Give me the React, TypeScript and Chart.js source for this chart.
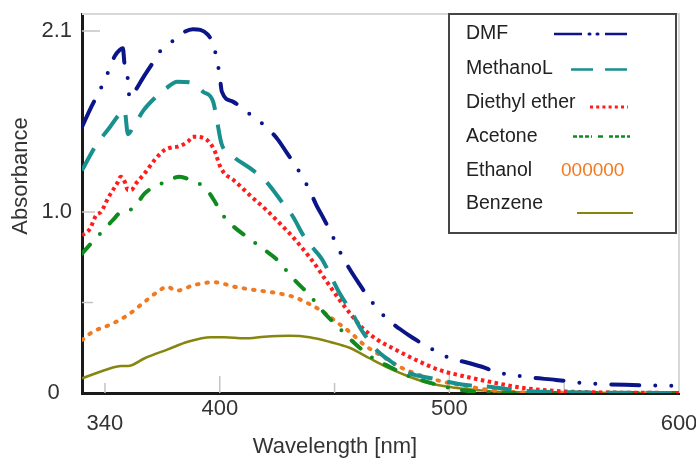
import React, { useEffect, useRef } from 'react';
import { Chart, registerables } from 'chart.js';

Chart.register(...registerables);

// ---------- data ----------
const seriesNames = ['DMF', 'MethanoL', 'Diethyl ether', 'Acetone', 'Ethanol', 'Benzene'];

const dmfWavelength = [340, 344, 347.7, 350.6, 354.2, 356.4, 357.8, 358.5, 360, 360.7, 362.9, 366.5, 370.1, 373.8, 377.4, 381.7, 388.3, 394.8, 397.7, 399.9, 400.9, 405.7, 411.6, 421, 425.3, 429.3, 433.3, 439.1, 442, 445.2, 448.6, 453.6, 457.3, 460.9, 465.2, 473.2, 478.3, 484, 489.9, 500.7, 507.2, 514.2, 520, 532.6, 546.4, 559.4, 579.7, 600];
const dmfAbsorbance = [1.47, 1.58, 1.67, 1.75, 1.86, 1.895, 1.905, 1.82, 1.73, 1.63, 1.665, 1.74, 1.81, 1.885, 1.92, 1.97, 2.01, 1.98, 1.9, 1.76, 1.665, 1.61, 1.555, 1.46, 1.4, 1.325, 1.25, 1.12, 1.04, 0.965, 0.88, 0.75, 0.67, 0.6, 0.52, 0.405, 0.355, 0.305, 0.26, 0.19, 0.17, 0.145, 0.118, 0.09, 0.072, 0.054, 0.044, 0.04];

const methanolWavelength = [340, 345.7, 352.2, 357.3, 358.5, 360, 362.3, 366.7, 370.9, 376.8, 381.5, 387.6, 392.7, 397.1, 398.5, 400.7, 405.1, 414.5, 420.3, 427.5, 431.9, 436.2, 440, 444.2, 447.8, 452.2, 457.3, 461.6, 468.1, 473.9, 482.6, 492.7, 507.2, 517.4, 530, 540, 600];
const methanolAbsorbance = [1.23, 1.36, 1.47, 1.555, 1.565, 1.43, 1.47, 1.56, 1.62, 1.685, 1.72, 1.715, 1.665, 1.61, 1.527, 1.38, 1.315, 1.23, 1.167, 1.048, 0.974, 0.875, 0.81, 0.745, 0.661, 0.551, 0.449, 0.35, 0.24, 0.18, 0.11, 0.08, 0.044, 0.035, 0.015, 0.007, 0];

const etherWavelength = [340, 343.3, 346.2, 348.4, 351.3, 353.5, 355.7, 356.8, 358.6, 360, 361.4, 363.6, 367.3, 371.6, 376, 379, 381.7, 386.1, 388.3, 393.3, 397.7, 399.9, 402, 405.7, 413, 420.3, 426.1, 430.4, 434.8, 438.5, 442.7, 447.1, 452.2, 457.3, 462.3, 468.8, 476.8, 485.5, 495.7, 505.8, 516, 533.3, 553.6, 600];
const etherAbsorbance = [0.87, 0.904, 0.983, 1.002, 1.076, 1.122, 1.167, 1.195, 1.167, 1.122, 1.122, 1.159, 1.214, 1.287, 1.343, 1.357, 1.361, 1.389, 1.416, 1.407, 1.34, 1.26, 1.214, 1.18, 1.094, 1.011, 0.938, 0.882, 0.818, 0.76, 0.689, 0.606, 0.514, 0.431, 0.357, 0.293, 0.238, 0.182, 0.127, 0.094, 0.066, 0.026, 0.007, 0];

const acetoneWavelength = [340, 344, 348.4, 353.5, 357.1, 362.2, 367.3, 371.6, 376.7, 382.5, 387.5, 393.6, 397.9, 400.3, 404.3, 411.6, 419.6, 424.7, 432.6, 439.1, 445.7, 452.2, 458.7, 466.7, 473.9, 481.2, 489.9, 502.9, 511.6, 525, 600];
const acetoneAbsorbance = [0.77, 0.827, 0.886, 0.956, 1.002, 1.02, 1.103, 1.14, 1.167, 1.195, 1.175, 1.134, 1.057, 1.002, 0.94, 0.864, 0.79, 0.739, 0.624, 0.541, 0.44, 0.357, 0.275, 0.192, 0.145, 0.099, 0.063, 0.02, 0.007, 0, 0];

const ethanolWavelength = [340, 344.8, 352, 360, 366.5, 373, 377.1, 381, 389, 397.7, 406.4, 415.1, 423.8, 431.9, 439.9, 444.9, 450.7, 457.3, 463, 471, 478.3, 487, 497.1, 508.7, 517.4, 530, 600];
const ethanolAbsorbance = [0.293, 0.339, 0.376, 0.431, 0.496, 0.56, 0.587, 0.565, 0.597, 0.612, 0.587, 0.569, 0.554, 0.532, 0.486, 0.449, 0.394, 0.33, 0.265, 0.201, 0.145, 0.099, 0.063, 0.035, 0.017, 0.005, 0];

const benzeneWavelength = [340, 350.1, 357.1, 360, 367.3, 377.4, 386.1, 396.2, 402, 410.7, 419.4, 425.2, 430.4, 439.1, 447.8, 456.5, 465.2, 473.9, 482.6, 491.3, 501.4, 511.6, 525, 600];
const benzeneAbsorbance = [0.081, 0.127, 0.149, 0.149, 0.192, 0.241, 0.283, 0.308, 0.308, 0.302, 0.311, 0.315, 0.316, 0.308, 0.283, 0.25, 0.192, 0.136, 0.09, 0.054, 0.031, 0.017, 0.005, 0];

const wavelengthTicks = [350, 400, 450, 500, 550, 600];
const wavelengthTickLabels = ['340', '400', '', '500', '', '600'];
const loweredTickLabels = ['340', '600'];
const absorbanceTicks = [0, 0.5, 1.0, 2.0];
const absorbanceTickLabels = ['0  ', '', '1.0', '2.1'];

const xAxisTitle = 'Wavelength [nm]';
const yAxisTitle = 'Absorbance';
const ethanolLegendMark = '000000';

// ---------- styles ----------
const FONT = '"Liberation Sans", Arial, Helvetica, sans-serif';
const colors = ['#0b1488', '#17908e', '#ff1c1c', '#0e8a1e', '#f07a22', '#86860f'];

const pairs = (xs: number[], ys: number[]) => xs.map((x, i) => ({ x, y: ys[i] }));

const frameAndTicksPlugin = {
  id: 'frameAndTicks',
  beforeDatasetsDraw(chart: any) {
    const { ctx, chartArea } = chart;
    const { left, right, top, bottom } = chartArea;
    ctx.save();
    ctx.strokeStyle = '#d8d8d8';
    ctx.lineWidth = 2;
    ctx.beginPath();
    ctx.moveTo(left, top);
    ctx.lineTo(right, top);
    ctx.lineTo(right, bottom);
    ctx.stroke();
    ctx.strokeStyle = '#c4c4c4';
    ctx.lineWidth = 1.5;
    const xs = chart.scales.x;
    const ys = chart.scales.y;
    const xLen: Record<number, number> = { 350: 10, 400: 17, 450: 10, 500: 22, 550: 10 };
    Object.keys(xLen).forEach((k) => {
      const v = Number(k);
      const px = xs.getPixelForValue(v);
      ctx.beginPath();
      ctx.moveTo(px, bottom);
      ctx.lineTo(px, bottom - xLen[v]);
      ctx.stroke();
    });
    const yLen: Record<string, number> = { '0.5': 11, '1': 13, '2': 18 };
    Object.keys(yLen).forEach((k) => {
      const py = ys.getPixelForValue(Number(k));
      ctx.beginPath();
      ctx.moveTo(left, py);
      ctx.lineTo(left + yLen[k], py);
      ctx.stroke();
    });
    ctx.restore();
  },
};

const titlesAndLegendPlugin = {
  id: 'titlesAndLegend',
  afterDraw(chart: any) {
    const { ctx } = chart;
    ctx.save();
    // axis titles
    ctx.fillStyle = '#333';
    ctx.font = `22px ${FONT}`;
    ctx.textAlign = 'center';
    ctx.textBaseline = 'middle';
    ctx.fillText(xAxisTitle, 335, 447);
    ctx.save();
    ctx.translate(21, 176);
    ctx.rotate(-Math.PI / 2);
    ctx.fillText(yAxisTitle, 0, 0);
    ctx.restore();

    // legend box
    const bx = 449, by = 14, bw = 227, bh = 219;
    ctx.fillStyle = '#fff';
    ctx.fillRect(bx, by, bw, bh);
    ctx.strokeStyle = '#454545';
    ctx.lineWidth = 2;
    ctx.strokeRect(bx, by, bw, bh);

    const rowY = [33.5, 69, 103, 136.5, 171, 204];
    ctx.font = `19.5px ${FONT}`;
    ctx.textAlign = 'left';
    seriesNames.forEach((name, i) => {
      ctx.fillStyle = '#222';
      ctx.fillText(name, 466, rowY[i]);
    });

    const seg = (x1: number, x2: number, y: number, color: string, w: number, dash: number[], cap: CanvasLineCap) => {
      ctx.save();
      ctx.strokeStyle = color;
      ctx.lineWidth = w;
      ctx.lineCap = cap;
      ctx.setLineDash(dash);
      ctx.beginPath();
      ctx.moveTo(x1, y);
      ctx.lineTo(x2, y);
      ctx.stroke();
      ctx.restore();
    };
    // DMF: dash-dot-dot
    seg(554, 582, 34, colors[0], 2.5, [], 'butt');
    seg(589, 590, 34, colors[0], 3, [], 'round');
    seg(597, 598, 34, colors[0], 3, [], 'round');
    seg(605, 627, 34, colors[0], 2.5, [], 'butt');
    // MethanoL: long dashes
    seg(571, 627, 69.5, colors[1], 2.5, [22, 12], 'butt');
    // Diethyl ether: dots
    seg(590, 628, 107, colors[2], 3, [3, 3.2], 'butt');
    // Acetone
    seg(573, 592, 136.5, colors[3], 2.5, [4, 2], 'butt');
    seg(598, 603, 136.5, colors[3], 2.5, [], 'butt');
    seg(609, 630, 136.5, colors[3], 2.5, [4, 2], 'butt');
    // Ethanol mark
    ctx.fillStyle = colors[4];
    ctx.font = `19px ${FONT}`;
    ctx.fillText(ethanolLegendMark, 561, 171);
    // Benzene
    seg(577, 633, 213, colors[5], 2, [], 'butt');
    ctx.restore();
  },
};

export default function App() {
  const canvasRef = useRef<HTMLCanvasElement | null>(null);

  useEffect(() => {
    if (!canvasRef.current) return;
    const common = { pointRadius: 0, fill: false, cubicInterpolationMode: 'monotone' as const };
    const chart = new Chart(canvasRef.current, {
      type: 'line',
      data: {
        datasets: [
          { ...common, label: seriesNames[0], data: pairs(dmfWavelength, dmfAbsorbance), borderColor: colors[0], borderWidth: 4, borderDash: [28, 16, 0, 16, 0, 16], borderCapStyle: 'round' },
          { ...common, label: seriesNames[1], data: pairs(methanolWavelength, methanolAbsorbance), borderColor: colors[1], borderWidth: 4, borderDash: [25, 15], borderCapStyle: 'butt' },
          { ...common, label: seriesNames[2], data: pairs(etherWavelength, etherAbsorbance), borderColor: colors[2], borderWidth: 4, borderDash: [3.5, 3.5], borderCapStyle: 'butt' },
          { ...common, label: seriesNames[3], data: pairs(acetoneWavelength, acetoneAbsorbance), borderColor: colors[3], borderWidth: 4, borderDash: [12, 14.5, 0, 14.5], borderCapStyle: 'round' },
          { ...common, label: seriesNames[4], data: pairs(ethanolWavelength, ethanolAbsorbance), borderColor: colors[4], borderWidth: 4, borderDash: [1.5, 8], borderCapStyle: 'round' },
          { ...common, label: seriesNames[5], data: pairs(benzeneWavelength, benzeneAbsorbance), borderColor: colors[5], borderWidth: 2.5, borderDash: [], borderCapStyle: 'butt' },
        ] as any,
      },
      options: {
        animation: false,
        responsive: false,
        maintainAspectRatio: false,
        devicePixelRatio: 1,
        layout: { padding: { top: 14, right: 17, left: 0, bottom: 0 } },
        plugins: { legend: { display: false }, tooltip: { enabled: false } },
        scales: {
          x: {
            type: 'linear',
            min: 340,
            max: 600,
            afterBuildTicks: (s: any) => {
              s.ticks = wavelengthTicks.map((v) => ({ value: v }));
            },
            afterFit: (s: any) => {
              s.height = 67;
              s.paddingLeft = 0;
              s.paddingRight = 0;
            },
            grid: { display: true, drawOnChartArea: false, drawTicks: false },
            border: { display: true, color: '#1a1a1a', width: 3 },
            ticks: {
              autoSkip: false,
              maxRotation: 0,
              minRotation: 0,
              padding: 9,
              color: '#333',
              font: { family: FONT, size: 22, lineHeight: 0.65 },
              callback: (value: any) => {
                const i = wavelengthTicks.indexOf(Number(value));
                const lbl = i >= 0 ? wavelengthTickLabels[i] : '';
                return loweredTickLabels.includes(lbl) ? ['', lbl] : lbl;
              },
            },
          },
          y: {
            type: 'linear',
            min: 0,
            max: 2.094,
            afterBuildTicks: (s: any) => {
              s.ticks = absorbanceTicks.map((v) => ({ value: v }));
            },
            afterFit: (s: any) => {
              s.width = 82;
              s.paddingTop = 0;
              s.paddingBottom = 0;
            },
            grid: { display: true, drawOnChartArea: false, drawTicks: false },
            border: { display: true, color: '#1a1a1a', width: 3 },
            ticks: {
              autoSkip: false,
              padding: 10,
              color: '#333',
              font: { family: FONT, size: 22 },
              callback: (value: any) => {
                const i = absorbanceTicks.indexOf(Number(value));
                return i >= 0 ? absorbanceTickLabels[i] : '';
              },
            },
          },
        },
      } as any,
      plugins: [frameAndTicksPlugin, titlesAndLegendPlugin],
    });
    return () => chart.destroy();
  }, []);

  return (
    <div style={{ position: 'absolute', left: 0, top: 0, width: 696, height: 460, background: '#fff' }}>
      <canvas ref={canvasRef} width={696} height={460} style={{ width: 696, height: 460, display: 'block' }} />
    </div>
  );
}
